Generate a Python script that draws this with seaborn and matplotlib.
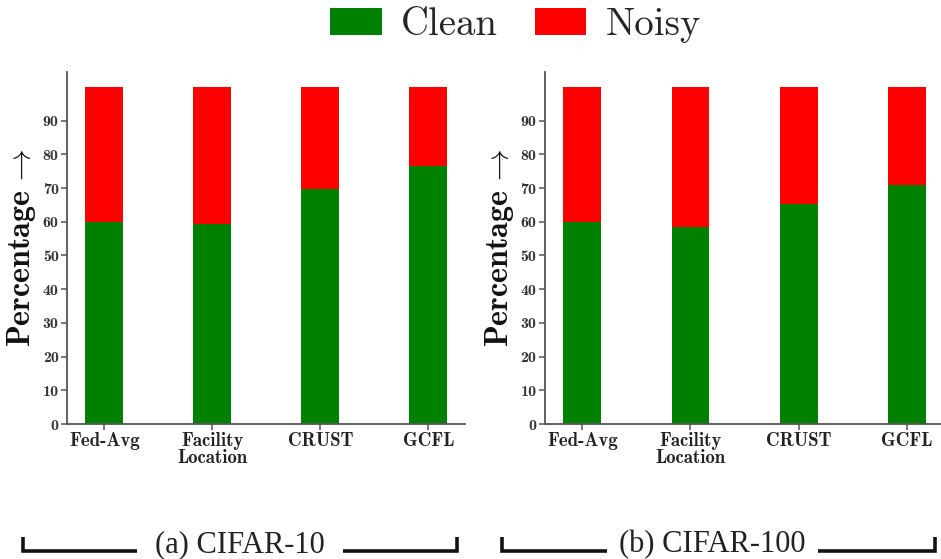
import matplotlib
matplotlib.use("Agg")
import matplotlib.pyplot as plt
from matplotlib.patches import Patch
from matplotlib.lines import Line2D
import seaborn as sns
import pandas as pd

# Share of clean vs. noisy samples selected by each method
methods = ["Fed-Avg", "Facility\nLocation", "CRUST", "GCFL"]
clean_c10 = [60, 59.3, 69.8, 76.6]
noisy_c10 = [40, 40.7, 30.2, 23.4]
clean_c100 = [60, 58.6, 65.2, 70.8]
noisy_c100 = [40, 41.4, 34.8, 29.2]
yticks = [0, 10, 20, 30, 40, 50, 60, 70, 80, 90]
captions = ["(a) CIFAR-10", "(b) CIFAR-100"]
legend_labels = ["Clean", "Noisy"]

CLEAN = "#008000"
NOISY = "#ff0000"

sns.set_theme(style="white")
plt.rcParams["mathtext.fontset"] = "cm"
plt.rcParams["axes.formatter.use_mathtext"] = True

fig = plt.figure(figsize=(9.41, 5.59), dpi=100)
ax_a = fig.add_axes([0.0712, 0.2415, 0.423, 0.630])
ax_b = fig.add_axes([0.579, 0.2415, 0.424, 0.630])


def draw_panel(ax, clean, noisy):
    df = pd.DataFrame({
        "method": methods,
        "clean": clean,
        "total": [c + n for c, n in zip(clean, noisy)],
    })
    sns.barplot(data=df, x="method", y="total", order=methods, color=NOISY,
                saturation=1, width=0.35, ax=ax, linewidth=0)
    sns.barplot(data=df, x="method", y="clean", order=methods, color=CLEAN,
                saturation=1, width=0.35, ax=ax, linewidth=0)
    ax.set_xlim(-0.345, 3.34)
    ax.set_ylim(0, 104.5)
    ax.set_yticks(yticks)
    ax.set_yticklabels([str(t) for t in yticks], fontfamily="cmb10",
                       fontsize=11.5, color="#333333")
    ax.set_xticks(range(len(methods)))
    ax.set_xticklabels(methods, fontfamily="cmb10", fontsize=13.5,
                       color="#222222", linespacing=0.9)
    ax.set_xlabel("")
    ax.set_ylabel(r"Percentage$\,\rightarrow$", fontfamily="cmb10",
                  fontsize=23, color="#111111", labelpad=3)
    for side in ("top", "right"):
        ax.spines[side].set_visible(False)
    for side in ("left", "bottom"):
        ax.spines[side].set_color("#555555")
        ax.spines[side].set_linewidth(1.3)
    ax.tick_params(axis="both", which="major", length=4, width=1.1,
                   color="#555555", pad=2, bottom=True, left=True)
    ax.grid(False)


draw_panel(ax_a, clean_c10, noisy_c10)
draw_panel(ax_b, clean_c100, noisy_c100)

# Legend across the top
handles = [Patch(facecolor=CLEAN, edgecolor="none"),
           Patch(facecolor=NOISY, edgecolor="none")]
fig.legend(handles, legend_labels, loc="center", bbox_to_anchor=(0.548, 0.955),
           ncol=2, frameon=False, prop={"family": "cmr10", "size": 28},
           handlelength=1.32, handleheight=0.72, handletextpad=0.5,
           columnspacing=0.95, borderpad=0.1)

# Sub-figure captions with bracket rules
W, H = 941.0, 559.0


def bracket(x0, x1, t0, t1, text):
    y_line = (H - 551) / H
    y_top = (H - 537) / H
    kw = dict(color="#111111", lw=2.6, solid_capstyle="butt",
              solid_joinstyle="miter", transform=fig.transFigure)
    fig.add_artist(Line2D([x0 / W, x0 / W, t0 / W], [y_top, y_line, y_line], **kw))
    fig.add_artist(Line2D([t1 / W, x1 / W, x1 / W], [y_line, y_line, y_top], **kw))
    fig.text((t0 + t1) / 2 / W, (H - 552) / H, text, ha="center", va="baseline",
             fontfamily="Liberation Serif", fontsize=22, color="#222222")


bracket(23, 457, 137, 343, captions[0])
bracket(502, 935, 607, 818, captions[1])

fig.savefig("out.png", dpi=100)
